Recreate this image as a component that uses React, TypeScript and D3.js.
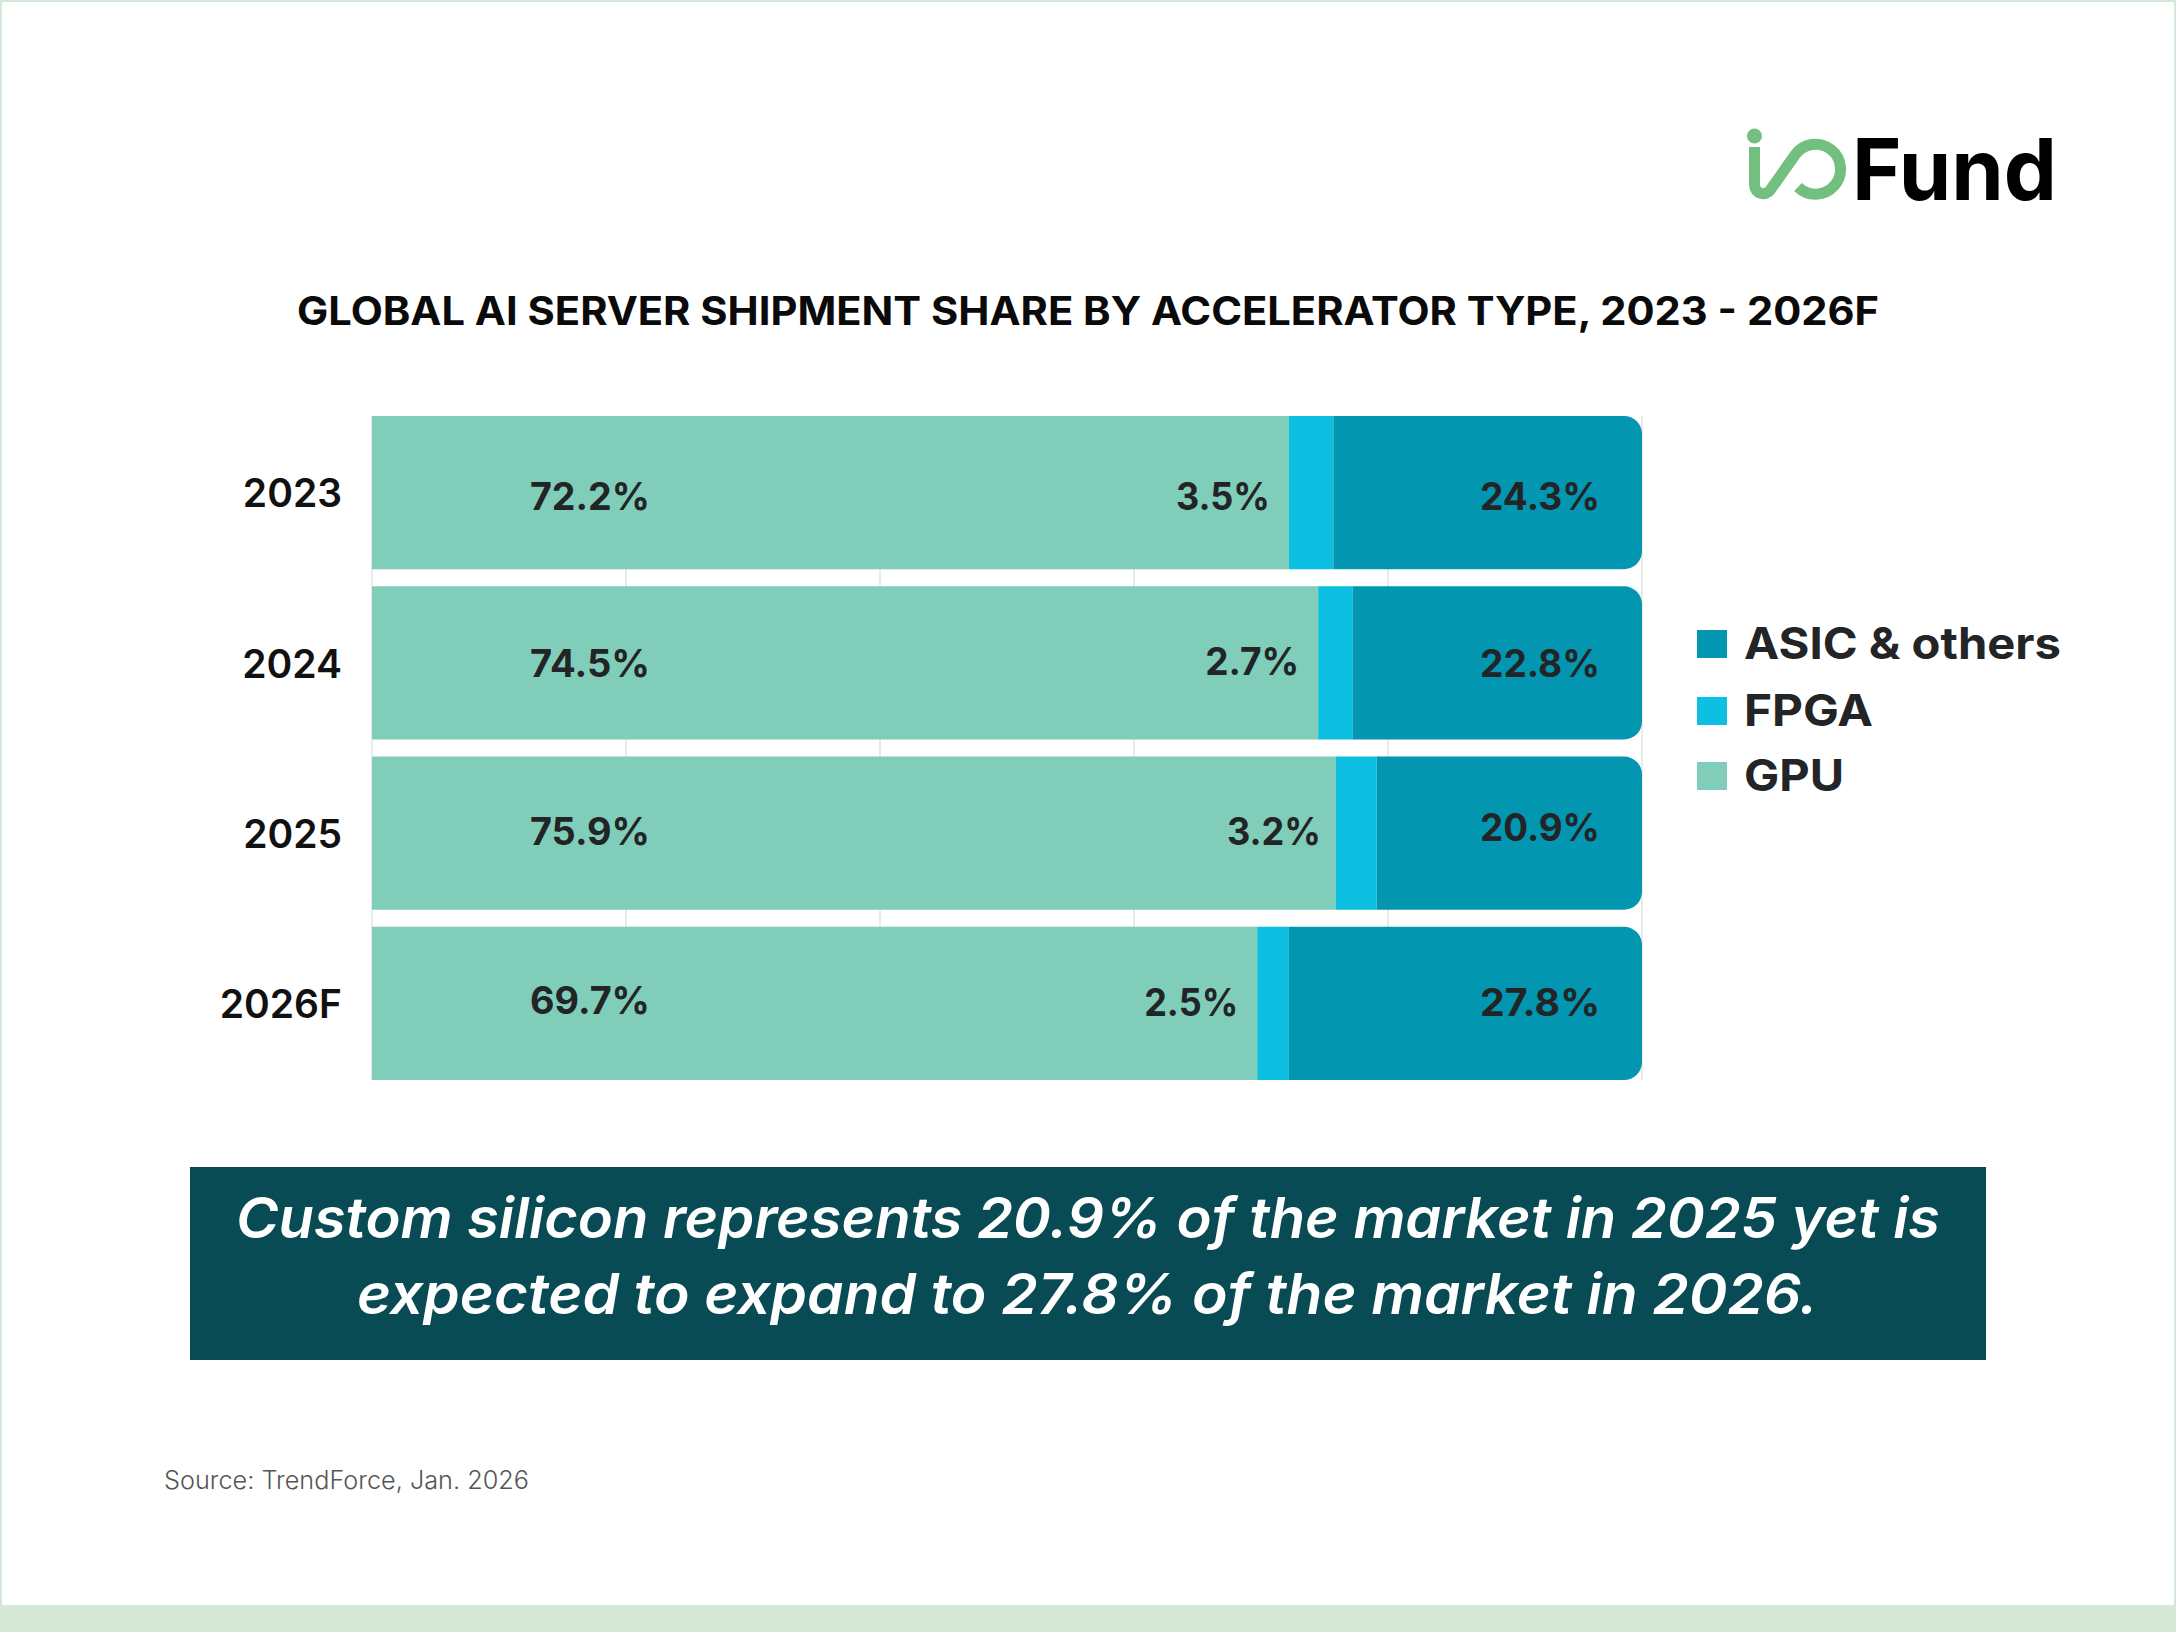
import React, { useRef, useEffect } from "react";
import * as d3 from "d3";

const years = ["2023", "2024", "2025", "2026F"];
const gpu = [72.2, 74.5, 75.9, 69.7];
const fpga = [3.5, 2.7, 3.2, 2.5];
const asic = [24.3, 22.8, 20.9, 27.8];
const seriesKeys = ["GPU", "FPGA", "ASIC"];
const legendLabels = ["ASIC & others", "FPGA", "GPU"];
const callout = [
  "Custom silicon represents 20.9% of the market in 2025 yet is",
  "expected to expand to 27.8% of the market in 2026.",
];

const WIDTH = 2176;
const HEIGHT = 1632;
const FONT = "Inter, 'Open Sans', sans-serif";
const INK = "#222426";
const colors: Record<string, string> = { GPU: "#80CEBA", FPGA: "#0DBFE0", ASIC: "#0396B0" };
const legendColors = ["#0396B0", "#0DBFE0", "#80CEBA"];

// hand placed labels in the original sit a little off the bar centre
const gpuNudge = [4, 0, -2, -3];
const fpgaNudge = [4, -2, -2, -1];
const asicNudge = [4, 0, -6, -1];

export default function App() {
  const svgRef = useRef<SVGSVGElement>(null);

  useEffect(() => {
    if (!svgRef.current) return;
    const svg = d3.select(svgRef.current);
    svg.selectAll("*").remove();

    svg.append("rect").attr("width", WIDTH).attr("height", HEIGHT).attr("fill", "#D5E8D6");
    svg.append("rect").attr("x", 2).attr("y", 2).attr("width", WIDTH - 4).attr("height", 1603).attr("fill", "#fff");

    const x = d3.scaleLinear().domain([0, 100]).range([372, 1642]);
    const y = d3.scaleBand().domain(years).range([416, 1080]).paddingInner(0.1);

    const rows = years.map((year, i) => ({ year, GPU: gpu[i], FPGA: fpga[i], ASIC: asic[i] }));
    const stacked = d3.stack<any>().keys(seriesKeys)(rows);

    // grid behind the bars
    svg
      .append("g")
      .selectAll("line")
      .data(x.ticks(5))
      .join("line")
      .attr("x1", (d) => x(d))
      .attr("x2", (d) => x(d))
      .attr("y1", 416)
      .attr("y2", 1080)
      .attr("stroke", "#E2E4E4")
      .attr("stroke-width", 1.5);

    const bars = svg.append("g");
    stacked.forEach((layer) => {
      bars
        .append("g")
        .selectAll("path")
        .data(layer)
        .join("path")
        .attr("fill", colors[layer.key])
        .attr("d", (d: any) => {
          const top = y(d.data.year) as number;
          const h = y.bandwidth();
          const x0 = x(d[0]);
          const x1 = x(d[1]);
          if (layer.key !== "ASIC") return `M${x0},${top}H${x1}V${top + h}H${x0}Z`;
          const r = 18;
          return `M${x0},${top}H${x1 - r}A${r},${r} 0 0 1 ${x1},${top + r}V${top + h - r}A${r},${r} 0 0 1 ${x1 - r},${top + h}H${x0}Z`;
        });
    });

    // year axis
    const axis = svg
      .append("g")
      .attr("transform", "translate(342,0)")
      .call(d3.axisLeft(y).tickSize(0).tickPadding(0));
    axis.select(".domain").remove();
    axis
      .selectAll("text")
      .attr("dy", "0.38em")
      .attr("font-family", FONT)
      .attr("font-size", 39)
      .attr("font-weight", 600)
      .attr("fill", "#111");

    const mid = (i: number) => (y(years[i]) as number) + y.bandwidth() / 2;
    const valueLabel = (
      values: number[],
      xAt: (i: number) => number,
      nudge: number[],
      anchor: string,
    ) =>
      svg
        .append("g")
        .selectAll("text")
        .data(values)
        .join("text")
        .attr("x", (_, i) => xAt(i))
        .attr("y", (_, i) => mid(i) + nudge[i])
        .attr("dy", "0.36em")
        .attr("text-anchor", anchor)
        .attr("textLength", (d) => (d >= 10 ? 120 : 94))
        .attr("lengthAdjust", "spacingAndGlyphs")
        .attr("font-family", FONT)
        .attr("font-size", 38)
        .attr("font-weight", 700)
        .attr("fill", INK)
        .text((d) => `${d.toFixed(1)}%`);

    valueLabel(gpu, () => 590, gpuNudge, "middle");
    valueLabel(fpga, (i) => x(gpu[i]) - (i === 2 ? 15 : 19), fpgaNudge, "end");
    valueLabel(asic, () => 1600, asicNudge, "end");

    // legend
    const legend = svg
      .append("g")
      .selectAll("g")
      .data(legendLabels)
      .join("g")
      .attr("transform", (_, i) => `translate(1697,${[630, 697, 762][i]})`);
    legend
      .append("rect")
      .attr("width", 30)
      .attr("height", 28)
      .attr("fill", (_, i) => legendColors[i]);
    legend
      .append("text")
      .attr("x", 47)
      .attr("y", 29)
      .attr("textLength", (_, i) => [317, 129, 100][i])
      .attr("lengthAdjust", "spacingAndGlyphs")
      .attr("font-family", FONT)
      .attr("font-size", 44)
      .attr("font-weight", 700)
      .attr("fill", INK)
      .text((d) => d);

    // title
    svg
      .append("text")
      .attr("x", 297)
      .attr("y", 325)
      .attr("textLength", 1582)
      .attr("lengthAdjust", "spacingAndGlyphs")
      .attr("font-family", FONT)
      .attr("font-size", 39)
      .attr("font-weight", 700)
      .attr("fill", "#0a0a0a")
      .text("GLOBAL AI SERVER SHIPMENT SHARE BY ACCELERATOR TYPE, 2023 - 2026F");

    // callout box
    svg.append("rect").attr("x", 190).attr("y", 1167).attr("width", 1796).attr("height", 193).attr("fill", "#084B54");
    svg
      .append("g")
      .selectAll("text")
      .data(callout)
      .join("text")
      .attr("x", (_, i) => [236, 357][i])
      .attr("y", (_, i) => [1238, 1314][i])
      .attr("textLength", (_, i) => [1704, 1461][i])
      .attr("lengthAdjust", "spacingAndGlyphs")
      .attr("font-family", FONT)
      .attr("font-size", 56)
      .attr("font-style", "italic")
      .attr("font-weight", 600)
      .attr("fill", "#fff")
      .text((d) => d);

    svg
      .append("text")
      .attr("x", 164)
      .attr("y", 1489)
      .attr("textLength", 365)
      .attr("lengthAdjust", "spacingAndGlyphs")
      .attr("font-family", FONT)
      .attr("font-size", 25)
      .attr("font-weight", 300)
      .attr("fill", "#555")
      .text("Source: TrendForce, Jan. 2026");

    // logo
    const logo = svg.append("g");
    logo.append("circle").attr("cx", 1754.5).attr("cy", 136).attr("r", 7.5).attr("fill", "#72BF7F");
    logo
      .append("path")
      .attr("d", "M1754.5,147V185A8.7,8.7 0 0 0 1770.3,190L1795,155A25,25 0 1 1 1798,187")
      .attr("fill", "none")
      .attr("stroke", "#72BF7F")
      .attr("stroke-width", 11);
    logo
      .append("text")
      .attr("x", 1852)
      .attr("y", 200)
      .attr("textLength", 205)
      .attr("lengthAdjust", "spacingAndGlyphs")
      .attr("font-family", FONT)
      .attr("font-size", 85)
      .attr("font-weight", 700)
      .attr("fill", "#000")
      .text("Fund");
  }, []);

  return (
    <svg
      ref={svgRef}
      width={WIDTH}
      height={HEIGHT}
      style={{ position: "absolute", left: 0, top: 0, display: "block" }}
    ></svg>
  );
}
